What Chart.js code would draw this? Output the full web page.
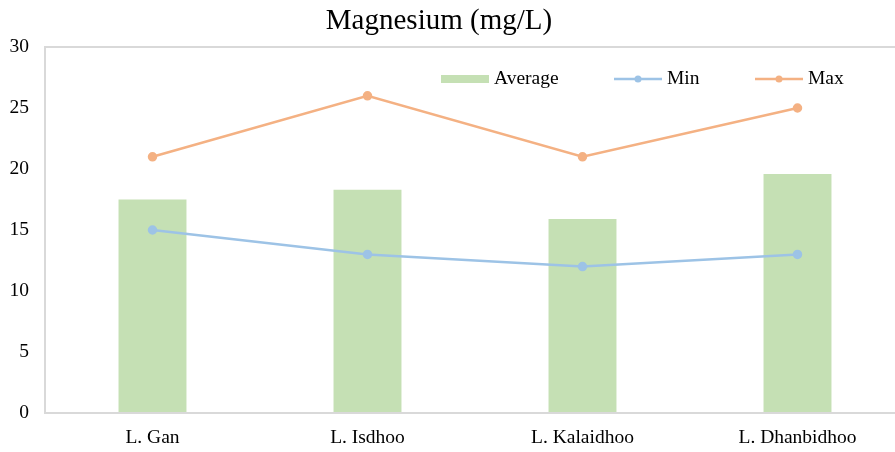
<!DOCTYPE html>
<html>
<head>
<meta charset="utf-8">
<script src="https://cdn.jsdelivr.net/npm/chart.js@4.4.0/dist/chart.umd.min.js"></script>
<style>
  html, body { margin: 0; padding: 0; background: #fff; overflow: hidden; }
  #wrap { width: 911px; height: 452px; }
</style>
</head>
<body>
<div id="wrap"><canvas id="mgChart"></canvas></div>
<script>
const sites = ['L. Gan', 'L. Isdhoo', 'L. Kalaidhoo', 'L. Dhanbidhoo'];
const avgVals = [17.5, 18.3, 15.9, 19.6];
const minVals = [15, 13, 12, 13];
const maxVals = [21, 26, 21, 25];

const serif = '"Liberation Serif", "Times New Roman", serif';
const gridGrey = '#D9D9D9';
const fontPx = 19.5;

// title + legend drawn by hand so they sit where the plot needs them
const decorations = {
  id: 'decorations',
  afterDraw(chart) {
    const ctx = chart.ctx;
    ctx.save();
    ctx.fillStyle = '#000';
    ctx.textBaseline = 'middle';
    ctx.font = '29px ' + serif;
    ctx.textAlign = 'center';
    ctx.fillText('Magnesium (mg/L)', 439, 21);

    ctx.font = fontPx + 'px ' + serif;
    ctx.textAlign = 'left';
    const ly = 79;
    // Average
    ctx.fillStyle = chart.data.datasets[0].backgroundColor;
    ctx.fillRect(441, ly - 4, 48, 8);
    ctx.fillStyle = '#000';
    ctx.fillText('Average', 494, ly);
    // Min / Max
    [[1, 614, 'Min'], [2, 755, 'Max']].forEach(([i, x, txt]) => {
      const c = chart.data.datasets[i].borderColor;
      ctx.strokeStyle = c;
      ctx.lineWidth = 2.5;
      ctx.beginPath();
      ctx.moveTo(x, ly);
      ctx.lineTo(x + 48, ly);
      ctx.stroke();
      ctx.fillStyle = c;
      ctx.beginPath();
      ctx.arc(x + 24, ly, 3.5, 0, Math.PI * 2);
      ctx.fill();
      ctx.fillStyle = '#000';
      ctx.fillText(txt, x + 53, ly);
    });
    ctx.restore();
  }
};

const config = {
  type: 'bar',
  data: {
    labels: sites,
    datasets: [
      {
        type: 'bar',
        label: 'Average',
        data: avgVals,
        backgroundColor: '#C5E0B4',
        categoryPercentage: 1,
        barPercentage: 0.316,
        order: 2
      },
      {
        type: 'line',
        label: 'Min',
        data: minVals,
        borderColor: '#9DC3E6',
        backgroundColor: '#9DC3E6',
        borderWidth: 2.5,
        pointRadius: 3.5,
        pointHoverRadius: 3.5,
        order: 1
      },
      {
        type: 'line',
        label: 'Max',
        data: maxVals,
        borderColor: '#F4B183',
        backgroundColor: '#F4B183',
        borderWidth: 2.5,
        pointRadius: 3.5,
        pointHoverRadius: 3.5,
        order: 0
      }
    ]
  },
  options: {
    responsive: true,
    maintainAspectRatio: false,
    animation: false,
    layout: { padding: { top: 47, left: 0, right: 0, bottom: 0 } },
    plugins: {
      legend: { display: false },
      title: { display: false },
      tooltip: { enabled: false }
    },
    scales: {
      x: {
        grid: { display: false, drawTicks: false },
        border: { display: true, color: gridGrey, width: 2 },
        ticks: { color: '#000', font: { family: serif, size: fontPx }, padding: 13 },
        afterFit(scale) { scale.height = 39; }
      },
      y: {
        min: 0,
        max: 30,
        ticks: { stepSize: 5, color: '#000', font: { family: serif, size: fontPx }, padding: 16 },
        grid: {
          drawTicks: false,
          lineWidth: 2,
          color: c => (c.tick && c.tick.value === 30 ? gridGrey : 'rgba(0,0,0,0)')
        },
        border: { display: true, color: gridGrey, width: 2 },
        afterFit(scale) { scale.width = 45; }
      }
    }
  },
  plugins: [decorations]
};

var ctx = document.getElementById('mgChart');
var myChart = new Chart(ctx, config);
</script>
</body>
</html>
